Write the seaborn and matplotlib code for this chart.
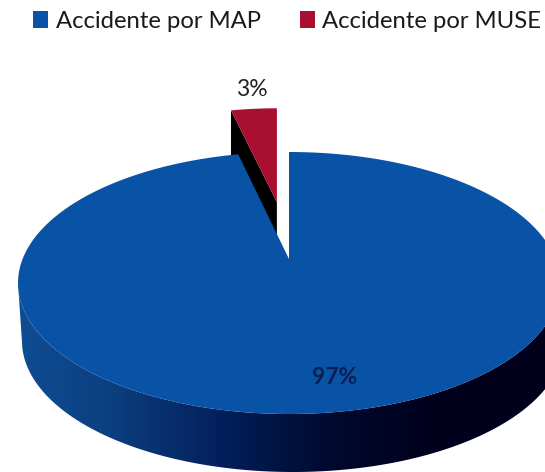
import numpy as np
import seaborn as sns
import matplotlib.pyplot as plt
from matplotlib.patches import Patch, Polygon

sns.set_theme(style='white')
plt.rcParams['font.family'] = ['Lato', 'DejaVu Sans']

# Values
categories = ['Accidente por MAP', 'Accidente por MUSE']
values = [97, 3]
value_labels = ['97%', '3%']
colors = ['#0853a5', '#a80f30']


def project(pts, cx=289, cy=283, rx=271, ry=131, ax0=289, ay0=259):
    # pie coords -> tilted disc in pixels, apex sits behind the ellipse centre
    x, y = pts[:, 0], pts[:, 1]
    r = np.hypot(x, y)
    return np.column_stack([ax0 + r * (cx - ax0) + rx * x,
                            ay0 + r * (cy - ay0) - ry * y])


def wedge_arc(w):
    th = np.radians(np.linspace(w.theta1, w.theta2, 400))
    return np.column_stack([w.center[0] + w.r * np.cos(th),
                            w.center[1] + w.r * np.sin(th)])


fig = plt.figure(figsize=(5.45, 4.72), dpi=100)
ax = fig.add_axes([0, 0, 1, 1])
wedges, _ = ax.pie(values, colors=colors, startangle=90, counterclock=False,
                   explode=[0, 0.2])
blue, red = wedges
blue_arc = wedge_arc(blue)
red_arc = wedge_arc(red)
blue_pts = np.vstack([blue.center, blue_arc])
red_pts = np.vstack([red.center, red_arc])
blue.remove()
red.remove()

# side wall of the disc, shaded left to right
front = blue_arc[blue_arc[:, 1] < 0]
top_edge = project(front)
low_edge = project(front, cx=293, cy=341, ax0=293, ay0=317)
wall = Polygon(np.vstack([top_edge, low_edge[::-1]]), closed=True,
               fc='none', ec='none', transform=ax.transData)
ax.add_patch(wall)
wall_cmap = sns.blend_palette(['#0f4f96', '#0c3f80', '#03205c', '#000a30', '#00001c', '#00001c'],
                              as_cmap=True)
shade = ax.imshow(np.linspace(0, 1, 256)[None, :], extent=[0, 545, 472, 0],
                  aspect='auto', cmap=wall_cmap, zorder=1)
shade.set_clip_path(wall)

# exploded slice, with its black cut face
red_top = project(red_pts, rx=245, ry=118) + [-7.5, -38]
red_low = red_top + [0, 55]
ax.add_patch(Polygon(np.vstack([red_top[-1], red_low[-1], red_low[0], red_top[0]]),
                     fc='black', ec='none', zorder=2))
ax.add_patch(Polygon(red_top, fc=colors[1], ec='none', zorder=3))

# main face
ax.add_patch(Polygon(project(blue_pts), fc=colors[0], ec='none', zorder=4))

ax.text(334.5, 377, value_labels[0], ha='center', va='center', fontsize=16.5,
        fontweight='bold', color='#0b1f55', zorder=5)
ax.text(251.5, 89, value_labels[1], ha='center', va='center', fontsize=16.5,
        color='#222222', zorder=5)

ax.set_aspect('auto')
ax.set_xlim(0, 545)
ax.set_ylim(472, 0)
ax.axis('off')

handles = [Patch(fc=c, ec='none') for c in colors]
fig.legend(handles, categories, ncol=2, frameon=False, fontsize=17.2,
           loc='center', bbox_to_anchor=(0.527, 0.955), handlelength=0.635,
           handleheight=0.7, handletextpad=0.3, columnspacing=1.65,
           labelcolor='#1a1a1a')

fig.savefig('out.png', dpi=100)
